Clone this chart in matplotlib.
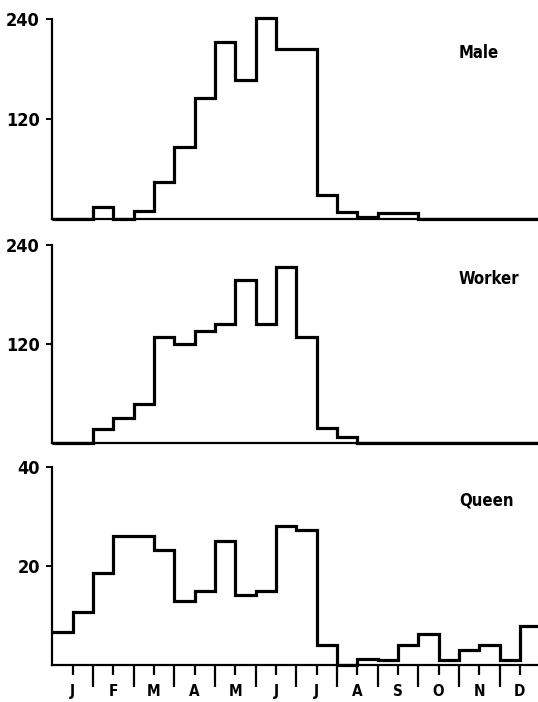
import numpy as np
import matplotlib
matplotlib.use("Agg")
import matplotlib.pyplot as plt

# half-month bins, Jan 1st half .. Dec 2nd half
months = ["J", "F", "M", "A", "M", "J", "J", "A", "S", "O", "N", "D"]
male = [0, 0, 15, 0, 10, 44, 87, 146, 213, 167, 241, 204, 204, 29, 8, 3, 7, 7,
        0, 0, 0, 0, 0, 0]
worker = [0, 0, 17, 30, 47, 128, 120, 136, 144, 197, 144, 213, 128, 18, 7, 0,
          0, 0, 0, 0, 0, 0, 0, 0]
queen = [6.7, 10.8, 18.5, 26.1, 26, 23.3, 13, 15, 25, 14.2, 15, 28.1, 27.2, 4,
         0, 1.2, 1, 4, 6.2, 1, 3, 4, 1, 7.8]
panels = [("Male", male, [120, 240]),
          ("Worker", worker, [120, 240]),
          ("Queen", queen, [20, 40])]

plt.rcParams['font.family'] = ['DejaVu Sans']
plt.rcParams['font.stretch'] = 'condensed'
plt.rcParams['font.weight'] = 'bold'

W, H = 538, 702
fig = plt.figure(figsize=(W / 100, H / 100), dpi=100)

# pixel rows of (top tick, baseline) for each panel
rows = [(19.3, 219), (245, 442.7), (467, 665)]
left = 52.3 / W
nbins = len(male)
edges = np.arange(nbins + 1)
binpx = 20.33

for (name, vals, yt), (ytop, ybot) in zip(panels, rows):
    ax = fig.add_axes([left, (H - ybot) / H, (W - 52.3) / W, (ybot - ytop) / H])
    ax.stairs(vals, edges, color="black", lw=2.3, clip_on=False, baseline=None)
    ax.set_xlim(0, (W - 52.3) / binpx)
    ax.set_ylim(0, yt[-1])
    for s in ["top", "right"]:
        ax.spines[s].set_visible(False)
    for s in ["left", "bottom"]:
        ax.spines[s].set_linewidth(1.6)
    ax.set_yticks(yt)
    ax.set_yticklabels([str(v) for v in yt], fontsize=13)
    ax.tick_params(axis="y", length=4, width=1.4, pad=5)
    ax.text(20, yt[-1] * 0.83, name, fontsize=12, ha="left", va="center")
    if name == "Queen":
        ax.set_xticks(np.arange(1, nbins, 2))
        ax.set_xticklabels(months, fontsize=11)
        ax.set_xticks(np.arange(2, nbins, 2), minor=True)
        ax.tick_params(axis="x", which="major", length=7, width=1.6, pad=7)
        ax.tick_params(axis="x", which="minor", length=16, width=1.6)
    else:
        ax.set_xticks([])

fig.savefig("out.png", dpi=100)
